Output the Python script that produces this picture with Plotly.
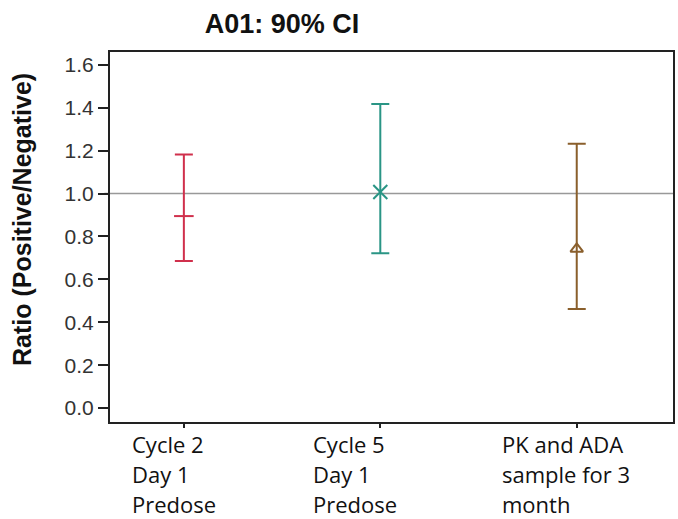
import plotly.graph_objects as go

categories = [["Cycle 2", "Day 1", "Predose"],
              ["Cycle 5", "Day 1", "Predose"],
              ["PK and ADA", "sample for 3", "month"]]
estimate = [0.895, 1.007, 0.742]
lower = [0.686, 0.722, 0.462]
upper = [1.182, 1.418, 1.232]
colors = ["#d0304c", "#2a9585", "#8a5f2c"]
symbols = ["line-ew", "x-thin", "triangle-up-open"]
y_ticks = [0.0, 0.2, 0.4, 0.6, 0.8, 1.0, 1.2, 1.4, 1.6]
label_shift = [-52, -67, -75]
y_title = "Ratio (Positive/Negative)"

fig = go.Figure()
for i in range(len(categories)):
    fig.add_trace(go.Scatter(
        x=[i], y=[estimate[i]], mode="markers",
        marker=dict(symbol=symbols[i], size=14 if i < 2 else 11, color=colors[i],
                    line=dict(color=colors[i], width=2)),
        error_y=dict(type="data", symmetric=False,
                     array=[upper[i] - estimate[i]],
                     arrayminus=[estimate[i] - lower[i]],
                     color=colors[i], thickness=2, width=9),
        showlegend=False,
    ))
    for j, line in enumerate(categories[i]):
        fig.add_annotation(x=i, y=0, xref="x", yref="paper", yanchor="middle", xanchor="left",
                           xshift=label_shift[i] - 2, yshift=-22 - 30 * j, align="left", showarrow=False,
                           text=line,
                           font=dict(family="Open Sans, sans-serif", size=22, color="#111"))

fig.add_annotation(x=0, y=0.546, xref="paper", yref="paper", xanchor="center", yanchor="middle",
                   xshift=-88, textangle=-90, showarrow=False, text=f"<b>{y_title}</b>",
                   font=dict(family="Liberation Sans, Arial, sans-serif", size=25, color="#111"))

fig.add_shape(type="line", xref="paper", yref="y", x0=-0.01, x1=1, y0=1.0, y1=1.0,
              line=dict(color="#999999", width=1.5), layer="below")

fig.update_layout(
    width=678, height=519,
    margin=dict(l=110, r=3, t=52, b=97),
    plot_bgcolor="white", paper_bgcolor="white",
    title=dict(text="<b>A01: 90% CI</b>", x=0.416, xanchor="center", y=0.955, yanchor="middle",
               font=dict(family="Liberation Sans, Arial, sans-serif", size=27, color="#111")),
    xaxis=dict(range=[-0.376, 2.49], tickvals=[0, 1, 2], ticktext=["", "", ""],
               showgrid=False, zeroline=False, showline=True, linecolor="#222", linewidth=2,
               mirror=True, ticks="outside", ticklen=4, tickcolor="#222", tickwidth=2),
    yaxis=dict(range=[-0.065, 1.66], tickvals=y_ticks, ticktext=[f"{v:.1f}" for v in y_ticks],
               showgrid=False, zeroline=False, showline=True, linecolor="#222", linewidth=2,
               mirror=True, ticks="outside", ticklen=10, tickcolor="#222", tickwidth=1.5,
               tickfont=dict(family="Liberation Sans, Arial, sans-serif", size=21, color="#333")),
)

fig.write_html("out.html")
